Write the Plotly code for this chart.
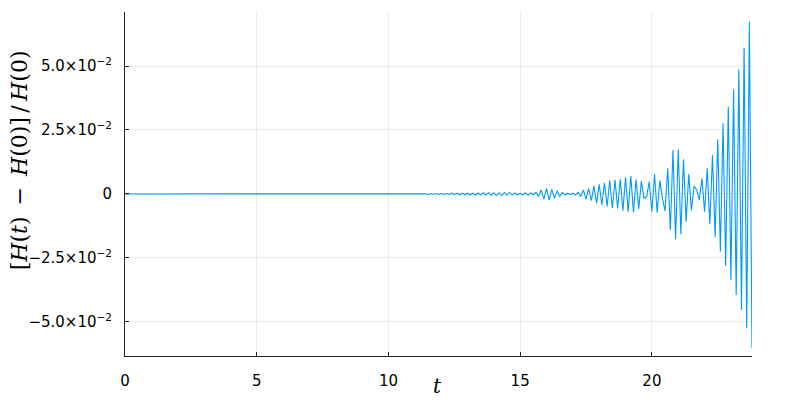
import numpy as np
import plotly.graph_objects as go

# ---- data ----
# flat part (no visible deviation)
t_flat = [0.0, 10.9]
h_flat = [0.0, 0.0]

# oscillating part, samples every 0.1 from t = 11.0 to t = 23.8
T_START = 11.0
DT = 0.1
h_osc = [
    0.0001, -0.0001, 0.0001, -0.0001, 0.0001, -0.0002, 0.0001, -0.0001, 0.0002, -0.0002,   # 11.0-11.9
    0.0002, -0.0002, 0.0002, -0.0002, 0.0003, -0.0002, 0.0003, -0.0003, 0.0003, -0.0003,   # 12.0-12.9
    0.0003, -0.0004, 0.0003, -0.0004, 0.0004, -0.0004, 0.0005, -0.0004, 0.0005, -0.0005,   # 13.0-13.9
    0.0005, -0.0006, 0.0005, -0.0006, 0.0006, -0.0005, 0.0006, -0.0005, 0.0004, -0.0003,   # 14.0-14.9
    0.0002, -0.0003, 0.0005, -0.0005, 0.0004, -0.0003, 0.0006, -0.0010, 0.0016, -0.0021,   # 15.0-15.9
    0.0022, -0.0023, 0.0018, -0.0017, 0.0013, -0.0010, 0.0006, -0.0004, 0.0003, -0.0002,   # 16.0-16.9
    0.0003, -0.0004, 0.0006, -0.0010, 0.0016, -0.0021, 0.0022, -0.0026, 0.0031, -0.0036,   # 17.0-17.9
    0.0038, -0.0043, 0.0044, -0.0049, 0.0052, -0.0056, 0.0055, -0.0056, 0.0057, -0.0065,   # 18.0-18.9
    0.0065, -0.0069, 0.0070, -0.0071, 0.0056, -0.0058, 0.0050, -0.0017, -0.0011, 0.0048,   # 19.0-19.9
    -0.0069, 0.0078, -0.0073, 0.0053, -0.0018, -0.0066, 0.0100, -0.0141, 0.0172, -0.0177,  # 20.0-20.9
    0.0174, -0.0157, 0.0136, -0.0108, 0.0078, -0.0063, 0.0031, 0.0016, -0.0023, 0.0061,    # 21.0-21.9
    -0.0069, 0.0100, -0.0118, 0.0152, -0.0169, 0.0214, -0.0225, 0.0276, -0.0281, 0.0341,   # 22.0-22.9
    -0.0336, 0.0409, -0.0395, 0.0487, -0.0453, 0.0571, -0.0525, 0.0673, -0.0603,           # 23.0-23.8
]
t_osc = [round(T_START + DT * i, 1) for i in range(len(h_osc))]

t = t_flat + t_osc
h = h_flat + h_osc

x_ticks = [0, 5, 10, 15, 20]
y_ticks = [-0.05, -0.025, 0.0, 0.025, 0.05]
y_tick_text = ["−5.0×10<sup>−2</sup>", "−2.5×10<sup>−2</sup>", "0",
               "2.5×10<sup>−2</sup>", "5.0×10<sup>−2</sup>"]

fig = go.Figure()
fig.add_trace(go.Scatter(x=t, y=h, mode="lines",
                         line=dict(color="#009AFA", width=1.1),
                         showlegend=False, hoverinfo="skip"))

axis_common = dict(
    showline=True, linecolor="#222222", linewidth=1,
    ticks="inside", ticklen=4, tickcolor="#222222", tickwidth=1,
    showgrid=True, gridcolor="rgba(0,0,0,0.08)", gridwidth=1,
    zeroline=False, mirror=False,
    tickfont=dict(family="DejaVu Sans", size=15, color="#000000"),
)

# the page body adds an 8px offset, margins compensate for it
fig.update_layout(
    width=800, height=400,
    margin=dict(l=117, r=56, t=4, b=52),
    paper_bgcolor="white", plot_bgcolor="white",
    xaxis=dict(range=[0, 23.8], tickvals=x_ticks, ticktext=[str(v) for v in x_ticks],
               ticklabelstandoff=11, **axis_common),
    yaxis=dict(range=[-0.0633, 0.0711], tickvals=y_ticks, ticktext=y_tick_text,
               ticklabelstandoff=9, **axis_common),
    annotations=[
        dict(text="[<i>H</i>(<i>t</i>)\u2002−\u2002<i>H</i>(0)]\u2009/\u2009<i>H</i>(0)",
             xref="paper", yref="paper", x=-0.168, y=0.568,
             xanchor="center", yanchor="middle", textangle=-90, showarrow=False,
             font=dict(family="DejaVu Serif", size=22, color="#000000")),
        dict(text="<i>t</i>", xref="paper", yref="paper", x=0.498, y=-0.088,
             xanchor="center", yanchor="middle", showarrow=False,
             font=dict(family="DejaVu Serif", size=20, color="#000000")),
    ],
)

fig.write_html("out.html")
